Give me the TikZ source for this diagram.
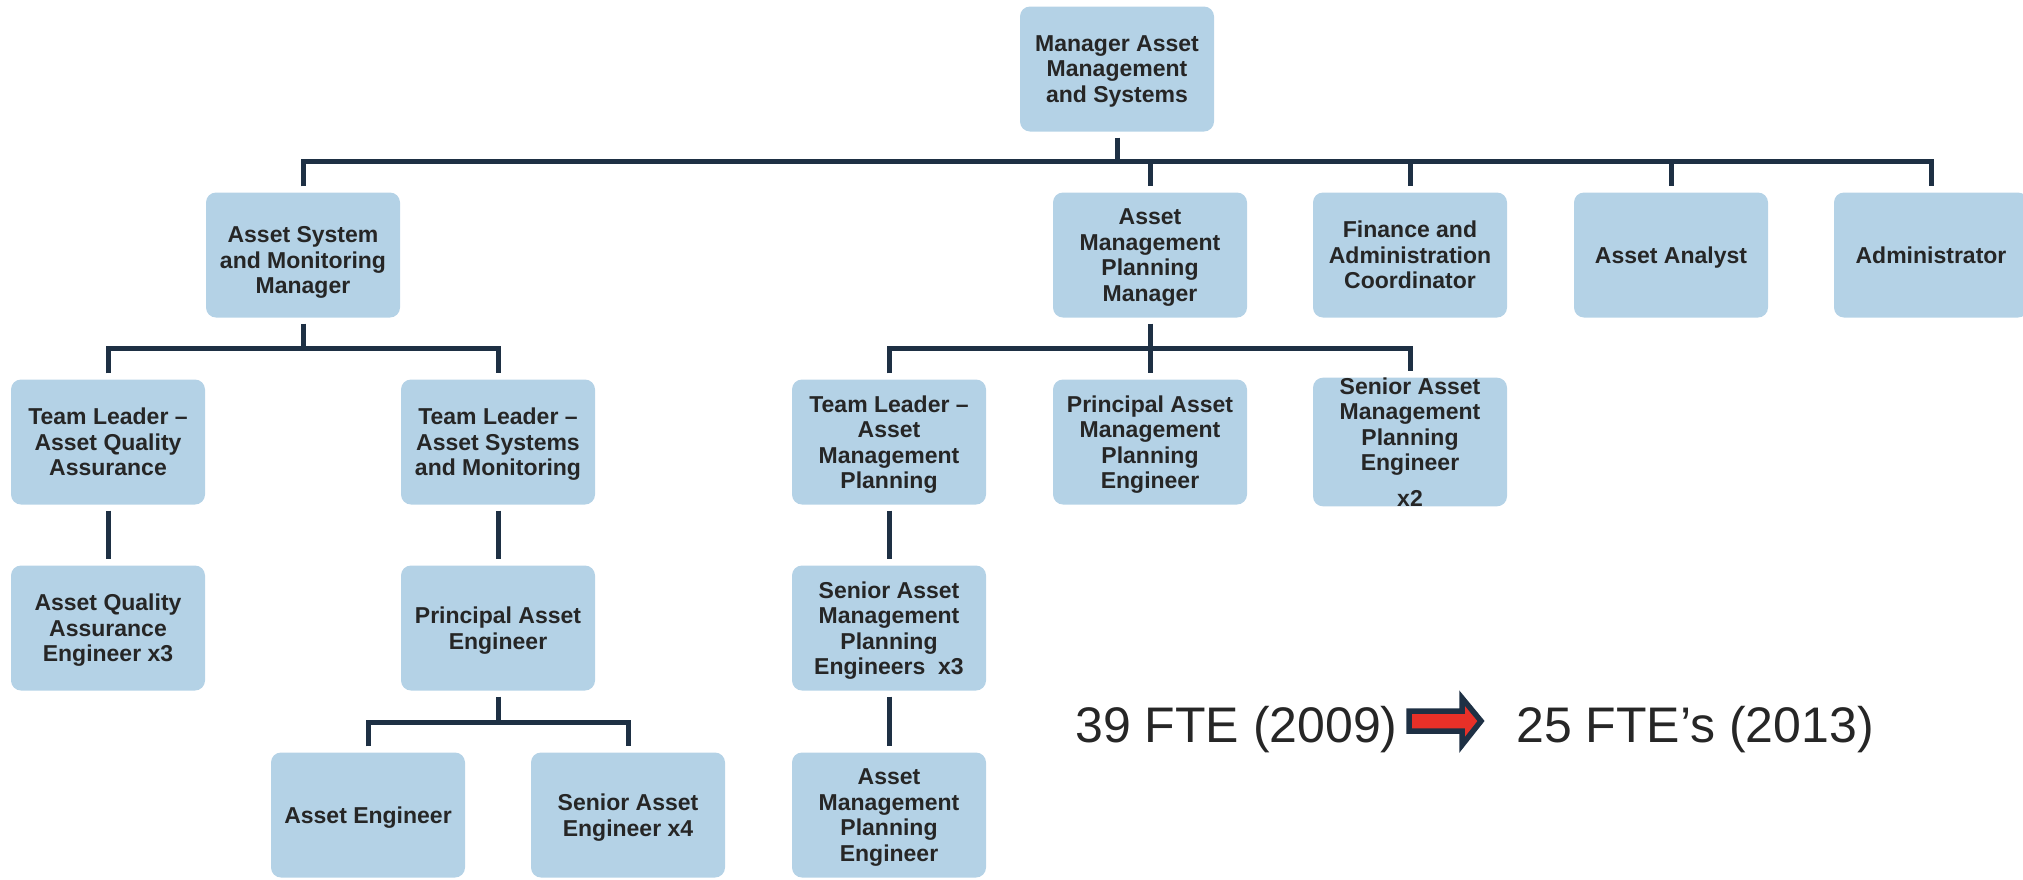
\documentclass[tikz,border=0pt]{standalone}
\usepackage{fontspec}
\setmainfont{Liberation Sans}
\definecolor{boxfill}{RGB}{180,210,230}
\definecolor{linec}{RGB}{30,48,68}
\definecolor{txt}{RGB}{38,38,38}
\definecolor{arrred}{RGB}{232,48,40}
\begin{document}
\begin{tikzpicture}[x=1pt,y=-1pt,
  box/.style={fill=boxfill, rounded corners=10pt, minimum width=194pt, minimum height=125pt,
    inner sep=0pt, align=center, text=txt, text depth=0pt, font=\fontsize{23}{25.5}\selectfont\bfseries},
  conn/.style={draw=linec, line width=5pt, line join=miter},
  fte/.style={text=txt, inner sep=0pt, font=\fontsize{50}{60}\selectfont}]
\useasboundingbox (0,0) rectangle (2023,879);

% nodes
\node[box] (top) at (1117,69) {Manager Asset\\Management\\and Systems};
\node[box] (asmm) at (303,255) {\rule{0pt}{26pt}Asset System\\and Monitoring\\Manager};
\node[box] (ampm) at (1150,255) {Asset\\Management\\Planning\\Manager};
\node[box] (fac) at (1410,255) {Finance and\\Administration\\Coordinator};
\node[box] (aa) at (1671,255) {Asset Analyst};
\node[box] (adm) at (1931,255) {Administrator};
\node[box] (tlaqa) at (108,442) {Team Leader –\\Asset Quality\\Assurance};
\node[box] (tlasm) at (498,442) {Team Leader –\\Asset Systems\\and Monitoring};
\node[box] (tlamp) at (889,442) {Team Leader –\\Asset\\Management\\Planning};
\node[box] (pampe) at (1150,442) {Principal Asset\\Management\\Planning\\Engineer};
\node[box] (sampe2) at (1410,442) {Senior Asset\\Management\\Planning\\Engineer\\[10pt]x2};
\node[box] (aqae) at (108,628) {Asset Quality\\Assurance\\Engineer x3};
\node[box] (pae) at (498,628) {Principal Asset\\Engineer};
\node[box] (sampe3) at (889,628) {Senior Asset\\Management\\Planning\\Engineers\ \ x3};
\node[box] (ae) at (368,815) {Asset Engineer};
\node[box] (sae) at (628,815) {Senior Asset\\Engineer x4};
\node[box] (ampe) at (889,815) {Asset\\Management\\Planning\\Engineer};

% bar levels
\coordinate (b1) at (0,161);
\coordinate (b2) at (0,348);
\coordinate (b4) at (0,722);

% level 1
\draw[conn] ([yshift=-6pt]top.south) -- (top.south |- b1);
\draw[conn] ([yshift=6pt]asmm.north) |- (adm.north |- b1) -- ([yshift=6pt]adm.north);
\foreach \n in {ampm,fac,aa} \draw[conn] (\n.north |- b1) -- ([yshift=6pt]\n.north);

% level 2 under ASMM
\draw[conn] ([yshift=-6pt]asmm.south) -- (asmm.south |- b2);
\draw[conn] ([yshift=6pt]tlaqa.north) |- (tlasm.north |- b2) -- ([yshift=6pt]tlasm.north);

% level 2 under AMPM
\draw[conn] ([yshift=-6pt]ampm.south) -- (ampm.south |- b2);
\draw[conn] ([yshift=6pt]tlamp.north) |- (sampe2.north |- b2) -- ([yshift=6pt]sampe2.north);
\draw[conn] (pampe.north |- b2) -- ([yshift=6pt]pampe.north);

% single links
\draw[conn] ([yshift=-6pt]tlaqa.south) -- ([yshift=6pt]aqae.north);
\draw[conn] ([yshift=-6pt]tlasm.south) -- ([yshift=6pt]pae.north);
\draw[conn] ([yshift=-6pt]tlamp.south) -- ([yshift=6pt]sampe3.north);
\draw[conn] ([yshift=-6pt]sampe3.south) -- ([yshift=6pt]ampe.north);

% level 4 under PAE
\draw[conn] ([yshift=-6pt]pae.south) -- (pae.south |- b4);
\draw[conn] ([yshift=6pt]ae.north) |- (sae.north |- b4) -- ([yshift=6pt]sae.north);

% FTE note
\node[fte, anchor=base west] (t1) at (1075,742) {39 FTE (2009)};
\draw[line width=5.5pt, draw=linec, fill=arrred, line join=miter]
  (1409,711) -- (1462,711) -- (1462,698) -- (1481,721) -- (1462,745) -- (1462,731) -- (1409,731) -- cycle;
\node[fte, anchor=base west] (t2) at (1516,742) {25 FTE’s (2013)};
\end{tikzpicture}
\end{document}
